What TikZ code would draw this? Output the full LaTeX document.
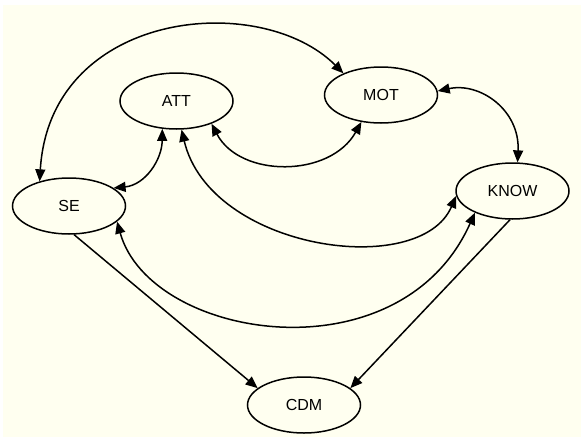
\documentclass[tikz,border=0pt]{standalone}
\usepackage{fontspec}
\setmainfont{Liberation Sans}
\usetikzlibrary{shapes.geometric,arrows.meta}
\definecolor{paper}{RGB}{255,255,240}
\tikzset{
  var/.style={ellipse, draw, line width=1.5pt, fill=paper, inner sep=0pt,
    minimum width=113pt, minimum height=56pt, font=\fontsize{16}{16}\selectfont},
  tip/.tip={Triangle[length=12pt,width=10pt]},
  link/.style={line width=1.5pt, tip-tip},
  onelink/.style={line width=1.5pt, -tip}
}
\begin{document}
\begin{tikzpicture}[x=1pt,y=-1pt]
  % canvas
  \fill[white] (0,0) rectangle (581,437);
  \fill[paper] (3,5) rectangle (581,437);
  \useasboundingbox (0,0) rectangle (581,437);

  % variables
  \node[var] (ATT)  at (176.5,101) {ATT};
  \node[var] (MOT)  at (381,95)    {MOT};
  \node[var] (SE)   at (69,206)    {SE};
  \node[var] (KNOW) at (512.5,191) {KNOW};
  \node[var] (CDM)  at (304,405)   {CDM};

  % mutual links
  \draw[link] (SE.140) .. controls (50,10) and (260,-10) .. (MOT.150);
  \draw[link] (SE.22) .. controls (145,185) and (162,160) .. (ATT.243);
  \draw[link] (ATT.327) .. controls (240,178) and (330,178) .. (MOT.234);
  \draw[link] (MOT.4) .. controls (480,82) and (520,110) .. (KNOW.80);
  \draw[link] (ATT.280) .. controls (210,250) and (420,280) .. (KNOW.185);
  \draw[link] (SE.342) .. controls (150,340) and (400,380) .. (KNOW.210);

  % direct effects on CDM
  \draw[onelink] (SE.280) -- (CDM.160);
  \draw[onelink] (KNOW.265) -- (CDM.20);
\end{tikzpicture}
\end{document}
